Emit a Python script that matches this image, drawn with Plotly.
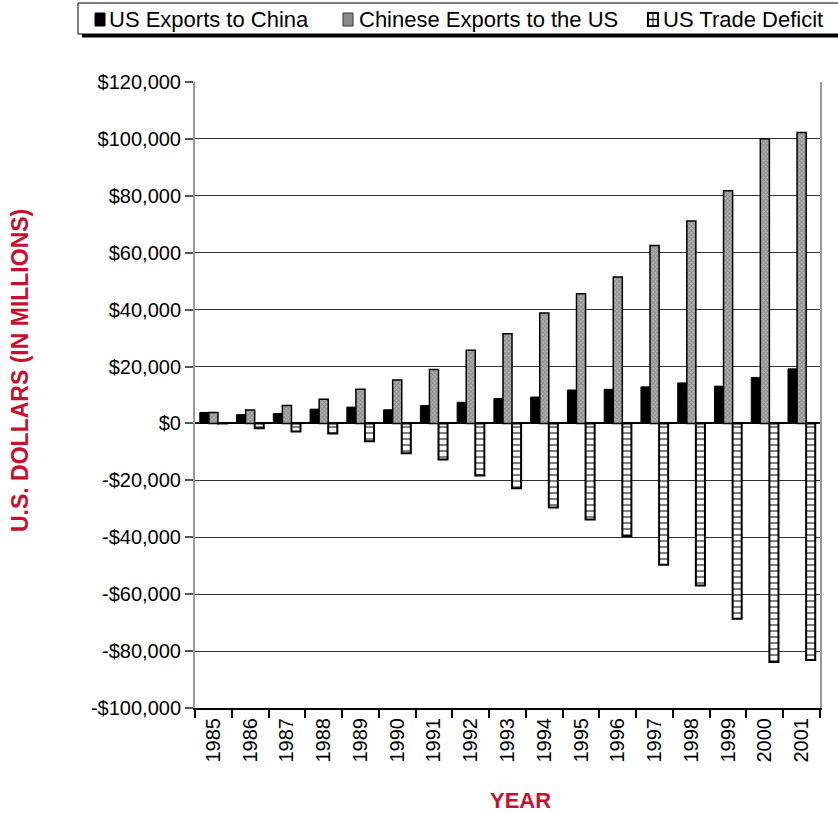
import plotly.graph_objects as go

years = [str(y) for y in range(1985, 2002)]
us_exports = [3856, 3106, 3497, 5022, 5755, 4806, 6278, 7419, 8763, 9282,
              11754, 11993, 12862, 14241, 13111, 16185, 19182]
china_exports = [3862, 4771, 6294, 8511, 11990, 15237, 18969, 25728, 31540, 38787,
                 45543, 51513, 62558, 71169, 81788, 100018, 102278]
deficit = [-6, -1665, -2796, -3489, -6234, -10431, -12691, -18309, -22777, -29505,
           -33790, -39520, -49696, -56927, -68677, -83833, -83096]
y_ticks = [-100000, -80000, -60000, -40000, -20000, 0, 20000, 40000, 60000, 80000, 100000, 120000]
y_labels = ["-$100,000", "-$80,000", "-$60,000", "-$40,000", "-$20,000", "$0",
            "$20,000", "$40,000", "$60,000", "$80,000", "$100,000", "$120,000"]
series_names = ["US Exports to China", "Chinese Exports to the US", "US Trade Deficit"]
y_title = "U.S. DOLLARS (IN MILLIONS)"
x_title = "YEAR"

RED = "#c8102e"
FONT = "Liberation Sans, Arial, sans-serif"

W, H = 838, 813
L, R, T, B = 195, 18, 82, 105
PW, PH = W - L - R, H - T - B


def px(x):
    return (x - L) / PW


def py(y):
    return (H - B - y) / PH


fig = go.Figure()
fig.add_trace(go.Bar(
    x=years, y=us_exports, name=series_names[0],
    marker=dict(color="black", line=dict(color="black", width=1)),
))
fig.add_trace(go.Bar(
    x=years, y=china_exports, name=series_names[1],
    marker=dict(color="#9a9a9a", line=dict(color="black", width=1.5),
                pattern=dict(shape="x", fgcolor="#5a5a5a", bgcolor="#b4b4b4",
                             size=3, solidity=0.5)),
))
fig.add_trace(go.Bar(
    x=years, y=deficit, name=series_names[2],
    marker=dict(color="white", line=dict(color="black", width=2),
                pattern=dict(shape="-", fgcolor="black", bgcolor="white",
                             size=6, solidity=0.35)),
))

# custom legend (box, symbols, texts)
shapes = [
    dict(type="rect", xref="paper", yref="paper", x0=px(78), x1=px(860), y0=py(34), y1=py(3),
         line=dict(color="black", width=1), fillcolor="white", layer="above"),
    dict(type="rect", xref="paper", yref="paper", x0=px(82), x1=px(860), y0=py(37.5), y1=py(34),
         line=dict(width=0), fillcolor="black", layer="above"),
    dict(type="rect", xref="paper", yref="paper", x0=px(95), x1=px(105), y0=py(26), y1=py(13),
         line=dict(color="black", width=1), fillcolor="black", layer="above"),
    dict(type="rect", xref="paper", yref="paper", x0=px(343), x1=px(353), y0=py(26), y1=py(13),
         line=dict(color="#333333", width=1), fillcolor="#8a8a8a", layer="above"),
    dict(type="rect", xref="paper", yref="paper", x0=px(648), x1=px(658), y0=py(26), y1=py(13),
         line=dict(color="black", width=2), fillcolor="white", layer="above"),
    dict(type="line", xref="paper", yref="paper", x0=px(648), x1=px(658), y0=py(19.5), y1=py(19.5),
         line=dict(color="black", width=1.5), layer="above"),
    dict(type="line", xref="paper", yref="paper", x0=px(653), x1=px(653), y0=py(26), y1=py(13),
         line=dict(color="black", width=1), layer="above"),
]
annotations = []
for name, xpos in zip(series_names, [107, 357, 661]):
    annotations.append(dict(
        text=name, xref="paper", yref="paper", x=px(xpos), y=py(19.5),
        xanchor="left", yanchor="middle", showarrow=False,
        font=dict(family=FONT, size=22, color="black"),
    ))
annotations.append(dict(
    text="<b>" + y_title + "</b>", xref="paper", yref="paper", x=px(20), y=py(370),
    xanchor="center", yanchor="middle", textangle=-90, showarrow=False,
    font=dict(family=FONT, size=23, color=RED),
))
annotations.append(dict(
    text="<b>" + x_title + "</b>", xref="paper", yref="paper", x=px(520), y=py(800),
    xanchor="center", yanchor="middle", showarrow=False,
    font=dict(family=FONT, size=22, color=RED),
))

fig.update_layout(
    width=W, height=H,
    margin=dict(l=L, r=R, t=T, b=B, autoexpand=False),
    paper_bgcolor="white", plot_bgcolor="white",
    barmode="group", bargap=0.26, bargroupgap=0,
    font=dict(family=FONT, color="black", size=20),
    showlegend=False,
    shapes=shapes,
    annotations=annotations,
    yaxis=dict(
        range=[-100000, 120000], tickvals=y_ticks, ticktext=y_labels,
        showgrid=True, gridcolor="#333333", gridwidth=1,
        zeroline=True, zerolinecolor="black", zerolinewidth=1.5,
        showline=True, linecolor="#999999", linewidth=2, mirror=True,
        ticks="outside", ticklen=8, tickcolor="#555555", tickwidth=1.5,
        tickfont=dict(family=FONT, size=20), automargin=False,
    ),
    xaxis=dict(
        type="category", tickangle=-90,
        showline=True, linecolor="black", linewidth=2,
        ticks="outside", tickson="boundaries", ticklen=8, tickcolor="black", tickwidth=1.5,
        tickfont=dict(family=FONT, size=20), automargin=False,
    ),
)

fig.write_html("out.html")
